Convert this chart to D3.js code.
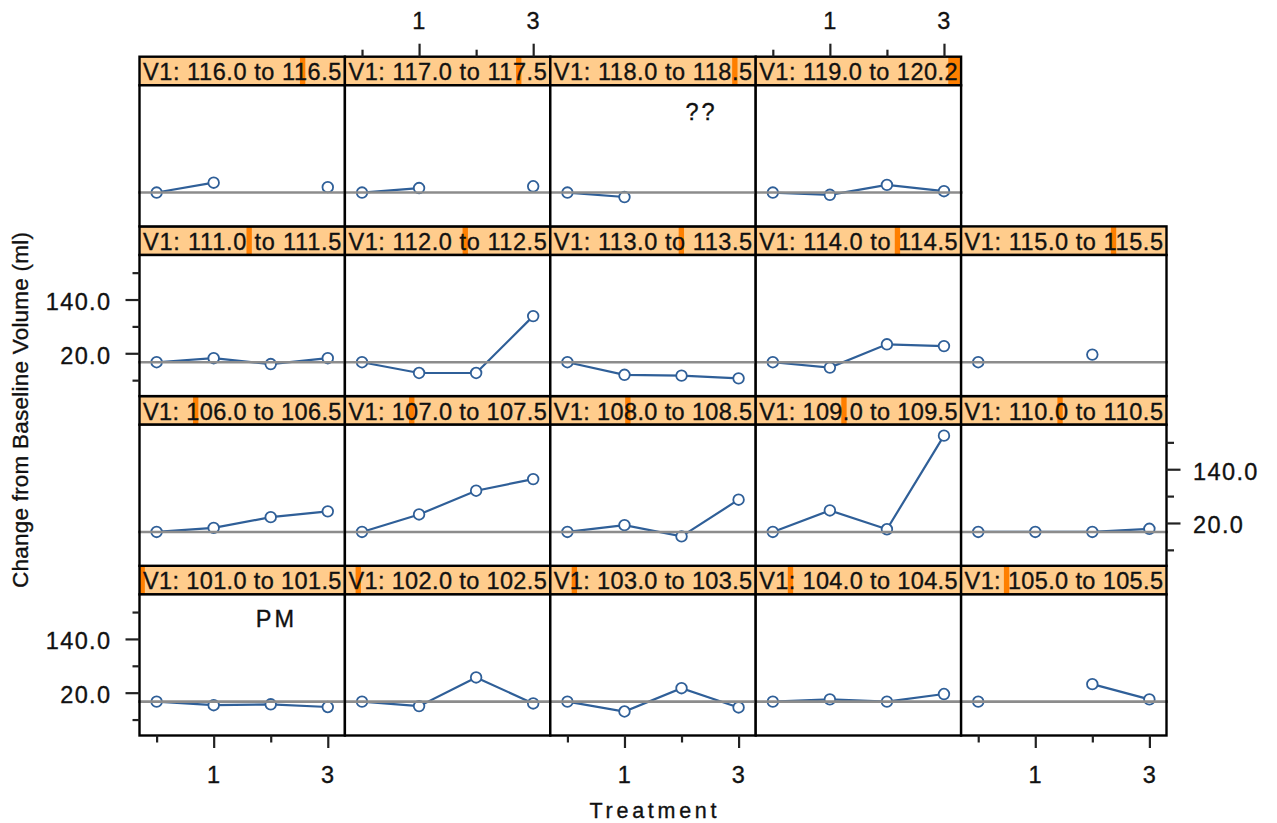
<!DOCTYPE html>
<html>
<head>
<meta charset="utf-8">
<script src="https://cdn.jsdelivr.net/npm/d3@7"></script>
<style>
  body { margin: 0; background: #fff; }
  svg { display: block; }
  text { font-family: "Liberation Sans", Arial, sans-serif; fill: #111; stroke: #111; stroke-width: 0.35px; }
</style>
</head>
<body>
<svg id="chart" width="1277" height="823"></svg>
<script>
// Treatment positions on the x axis
const treatments = [0, 1, 2, 3];

// Shingle intervals of V1, one per panel (bottom-left first, row by row)
const v1Low  = [101.0, 102.0, 103.0, 104.0, 105.0,
                106.0, 107.0, 108.0, 109.0, 110.0,
                111.0, 112.0, 113.0, 114.0, 115.0,
                116.0, 117.0, 118.0, 119.0];
const v1High = [101.5, 102.5, 103.5, 104.5, 105.5,
                106.5, 107.5, 108.5, 109.5, 110.5,
                111.5, 112.5, 113.5, 114.5, 115.5,
                116.5, 117.5, 118.5, 120.2];
const v1Range = [101.0, 120.2];

// Change from baseline volume (ml) at each treatment; null = not measured
const changeFromBaseline = [
  [0, -8, -6, -12],
  [0, -10, 54, -4],
  [0, -22, 30, -13],
  [0, 5, 0, 17],
  [0, null, 39, 5],
  [0, 9, 33, 46],
  [0, 39, 92, 118],
  [0, 15, -10, 72],
  [0, 48, 6, 215],
  [0, 0, 0, 7],
  [0, 9, -4, 9],
  [0, -24, -24, 103],
  [0, -28, -30, -36],
  [0, -12, 40, 36],
  [0, null, 17, null],
  [0, 22, null, 12],
  [0, 10, null, 14],
  [0, -10, null, null],
  [0, -5, 17, 3]
];

// Axis ticks
const yMajorTicks = [20, 140];
const yMinorTicks = [-40, 80, 200];
const xMajorTicks = [1, 3];
const xMinorTicks = [0, 2];

// Text notes placed inside panels (panel index, data position)
const noteText  = ["PM", "??"];
const notePanel = [0, 17];
const noteX     = [2.1, 2.35];
const noteY     = [185, 180];

// ---- layout ----
const nCols = 5, nRows = 4;
const gridLeft = 139.5, gridTop = 56.7, colW = 205.4, rowH = 169.7, stripH = 28.6;
const panelH = rowH - stripH;
const lineColor = "#2f5f98";

const svg = d3.select("#chart");
svg.append("rect").attr("width", 1277).attr("height", 823).attr("fill", "#fff");

const x = d3.scaleLinear().domain([-0.3, 3.3]).range([0, colW]);
const y = d3.scaleLinear().domain([-75.6, 239.4]).range([panelH, 0]);
const stripScale = d3.scaleLinear().domain(v1Range).range([0, colW]);

function panelPos(i) {
  const col = i % nCols;
  const rowFromBottom = Math.floor(i / nCols);
  const rowTop = nRows - 1 - rowFromBottom;
  const px = gridLeft + col * colW;
  const sy = gridTop + rowTop * rowH;
  return { col, rowFromBottom, rowTop, px, sy, py: sy + stripH };
}

const line = d3.line()
  .defined(d => d.v !== null)
  .x(d => x(d.t))
  .y(d => y(d.v));

const fmt1 = d3.format(".1f");

const styleAxis = (ax) => {
  ax.select(".domain").remove();
  ax.selectAll(".tick line").attr("stroke", "#222").attr("stroke-width", 2.2);
  ax.selectAll(".tick text")
    .attr("font-size", 23.5).attr("fill", "#111")
    .attr("font-family", "Liberation Sans, Arial, sans-serif")
    .style("letter-spacing", "1.4px");
};

v1Low.forEach((lo, i) => {
  const p = panelPos(i);
  const hi = v1High[i];

  // strip
  const s = svg.append("g").attr("transform", `translate(${p.px},${p.sy})`);
  s.append("rect").attr("width", colW).attr("height", stripH).attr("fill", "#ffcc8c");
  s.append("rect")
    .attr("x", stripScale(lo)).attr("width", stripScale(hi) - stripScale(lo))
    .attr("height", stripH).attr("fill", "#ff7f00");
  s.append("text")
    .attr("x", colW / 2).attr("y", 23.5)
    .attr("text-anchor", "middle")
    .attr("font-size", 23.5)
    .attr("textLength", colW - 7).attr("lengthAdjust", "spacing")
    .text(`V1: ${fmt1(lo)} to ${fmt1(hi)}`);
  s.append("rect").attr("width", colW).attr("height", stripH)
    .attr("fill", "none").attr("stroke", "#000").attr("stroke-width", 2.4);

  // panel
  const g = svg.append("g").attr("transform", `translate(${p.px},${p.py})`);
  g.append("rect").attr("width", colW).attr("height", panelH).attr("fill", "#fff");

  const pts = treatments.map((t, k) => ({ t, v: changeFromBaseline[i][k] }));
  g.append("path").datum(pts)
    .attr("d", line).attr("fill", "none")
    .attr("stroke", lineColor).attr("stroke-width", 2.2);
  g.selectAll("circle").data(pts.filter(d => d.v !== null)).join("circle")
    .attr("cx", d => x(d.t)).attr("cy", d => y(d.v)).attr("r", 5.3)
    .attr("fill", "#fff").attr("stroke", lineColor).attr("stroke-width", 1.8);

  // reference line at zero change
  g.append("line")
    .attr("x1", -1.5).attr("x2", colW + 1.5)
    .attr("y1", y(0)).attr("y2", y(0))
    .attr("stroke", "#8c8c8c").attr("stroke-width", 2.6);

  g.append("rect").attr("width", colW).attr("height", panelH)
    .attr("fill", "none").attr("stroke", "#000").attr("stroke-width", 2.4);

  // axes (alternating sides, lattice style)
  if (p.rowFromBottom === 0 && p.col % 2 === 0) {
    const ax = g.append("g").attr("transform", `translate(0,${panelH})`);
    ax.append("g").call(d3.axisBottom(x).tickValues(xMinorTicks).tickSize(7).tickFormat(""));
    ax.append("g").call(d3.axisBottom(x).tickValues(xMajorTicks).tickSize(12.5).tickPadding(18.5).tickFormat(d3.format("d")));
    ax.selectAll(":scope > g").each(function () { styleAxis(d3.select(this)); });
  }
  if (p.rowTop === 0 && p.col % 2 === 1) {
    const ax = g.append("g").attr("transform", `translate(0,${-stripH})`);
    ax.append("g").call(d3.axisTop(x).tickValues(xMinorTicks).tickSize(7).tickFormat(""));
    ax.append("g").call(d3.axisTop(x).tickValues(xMajorTicks).tickSize(13).tickPadding(14.5).tickFormat(d3.format("d")));
    ax.selectAll(":scope > g").each(function () { styleAxis(d3.select(this)); });
  }
  if (p.col === 0 && p.rowFromBottom % 2 === 0) {
    const ax = g.append("g");
    ax.append("g").call(d3.axisLeft(y).tickValues(yMinorTicks).tickSize(7).tickFormat(""));
    ax.append("g").call(d3.axisLeft(y).tickValues(yMajorTicks).tickSize(14).tickPadding(14).tickFormat(fmt1));
    ax.selectAll(":scope > g").each(function () { styleAxis(d3.select(this)); });
    ax.selectAll(".tick text").attr("dy", "0.42em");
  }
  if (p.col === nCols - 1 && p.rowFromBottom % 2 === 1) {
    const ax = g.append("g").attr("transform", `translate(${colW},0)`);
    ax.append("g").call(d3.axisRight(y).tickValues(yMinorTicks).tickSize(7.5).tickFormat(""));
    ax.append("g").call(d3.axisRight(y).tickValues(yMajorTicks).tickSize(14).tickPadding(12.5).tickFormat(fmt1));
    ax.selectAll(":scope > g").each(function () { styleAxis(d3.select(this)); });
    ax.selectAll(".tick text").attr("dy", "0.42em");
  }

  // in-panel notes
  notePanel.forEach((np, k) => {
    if (np !== i) return;
    g.append("text")
      .attr("x", x(noteX[k])).attr("y", y(noteY[k]))
      .attr("text-anchor", "middle").attr("dy", "0.36em")
      .attr("font-size", 23.5)
      .style("letter-spacing", "3px")
      .text(noteText[k]);
  });
});

// axis titles
const plotCenterX = gridLeft + nCols * colW / 2;
svg.append("text")
  .attr("x", plotCenterX).attr("y", 818)
  .attr("text-anchor", "middle")
  .attr("font-size", 21.5)
  .attr("textLength", 127).attr("lengthAdjust", "spacing")
  .text("Treatment");

svg.append("text")
  .attr("transform", `translate(28,410) rotate(-90)`)
  .attr("text-anchor", "middle")
  .attr("font-size", 22.5)
  .attr("textLength", 356).attr("lengthAdjust", "spacing")
  .text("Change from Baseline Volume (ml)");
</script>
</body>
</html>
